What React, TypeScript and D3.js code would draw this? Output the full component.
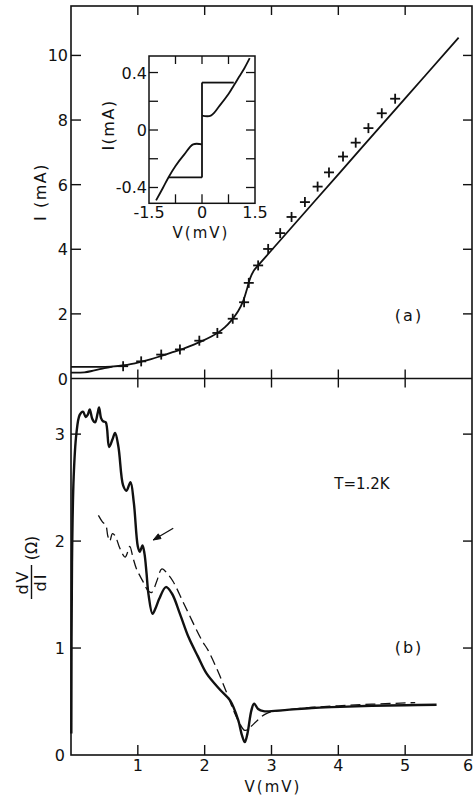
import React from 'react';
import * as d3 from 'd3';

// ---- Panel (a): I-V curve ----
const ivUpperBranch: [number, number][] = [[0, 0.36], [0.3, 0.36], [0.6, 0.37], [0.8, 0.41], [1.05, 0.52], [1.2, 0.6], [1.35, 0.7], [1.5, 0.8], [1.65, 0.9], [1.8, 1.02], [1.95, 1.15], [2.1, 1.3], [2.2, 1.42], [2.3, 1.58], [2.4, 1.8], [2.5, 2.08], [2.58, 2.42], [2.64, 2.82], [2.68, 3.1], [2.73, 3.32], [2.8, 3.5], [3.0, 3.97], [4.0, 6.32], [5.0, 8.67], [5.8, 10.55]];
const ivLowerBranch: [number, number][] = [[0, 0.18], [0.2, 0.19], [0.35, 0.25], [0.5, 0.32], [0.62, 0.37]];
const crossV = [0.78, 1.05, 1.35, 1.63, 1.92, 2.19, 2.42, 2.59, 2.66, 2.8, 2.95, 3.13, 3.3, 3.5, 3.69, 3.86, 4.07, 4.26, 4.45, 4.65, 4.85];
const crossI = [0.38, 0.53, 0.74, 0.9, 1.17, 1.41, 1.85, 2.36, 2.96, 3.5, 4.01, 4.5, 5.0, 5.46, 5.94, 6.38, 6.87, 7.3, 7.75, 8.21, 8.66];
const topYTicks = [0, 2, 4, 6, 8, 10];
const xTicks = [1, 2, 3, 4, 5];
const xTickLabels = [1, 2, 3, 4, 5, 6];

// ---- Inset ----
const insetPosBranch: [number, number][] = [[0, 0.1], [0.25, 0.1], [0.5, 0.17], [0.75, 0.25], [0.9, 0.31], [1.05, 0.37], [1.2, 0.43], [1.35, 0.5]];
const insetNegBranch: [number, number][] = [[0, -0.1], [-0.25, -0.1], [-0.5, -0.17], [-0.75, -0.25], [-0.95, -0.33], [-1.1, -0.4], [-1.3, -0.49]];
const insetTopStep: [number, number][] = [[0, 0.33], [0.9, 0.33]];
const insetBottomStep: [number, number][] = [[-0.95, -0.33], [0, -0.33]];
const insetVertical: [number, number][] = [[0, -0.33], [0, 0.33]];
const insetYTicks = [-0.4, -0.2, 0, 0.2, 0.4];
const insetYLabels = [-0.4, 0, 0.4];
const insetXTicks = [-0.75, 0, 0.75];
const insetXLabels = ['-1.5', '0', '1.5'];
const insetXLabelVals = [-1.5, 0, 1.5];

// ---- Panel (b): dV/dI ----
const dvdiSolid: [number, number][] = [[0.005, 0.2], [0.015, 1.8], [0.04, 2.6], [0.08, 3.0], [0.13, 3.18], [0.18, 3.21], [0.22, 3.16], [0.25, 3.18], [0.28, 3.23], [0.32, 3.14], [0.36, 3.11], [0.4, 3.2], [0.42, 3.25], [0.45, 3.15], [0.48, 3.12], [0.52, 3.11], [0.57, 2.88], [0.62, 2.95], [0.66, 3.01], [0.71, 2.88], [0.78, 2.52], [0.83, 2.47], [0.89, 2.55], [0.94, 2.36], [1.0, 1.95], [1.03, 1.9], [1.07, 1.96], [1.1, 1.88], [1.13, 1.7], [1.16, 1.5], [1.22, 1.32], [1.27, 1.38], [1.32, 1.46], [1.42, 1.57], [1.51, 1.51], [1.63, 1.32], [1.76, 1.1], [1.9, 0.92], [2.03, 0.76], [2.23, 0.61], [2.38, 0.51], [2.5, 0.33], [2.56, 0.18], [2.6, 0.12], [2.64, 0.2], [2.7, 0.42], [2.74, 0.48], [2.8, 0.43], [2.88, 0.41], [3.2, 0.42], [3.6, 0.44], [4.03, 0.45], [4.5, 0.46], [5.0, 0.465], [5.47, 0.47]];
const dvdiDashed: [number, number][] = [[0.41, 2.24], [0.47, 2.18], [0.52, 2.15], [0.55, 2.05], [0.58, 2.0], [0.62, 2.07], [0.66, 2.05], [0.72, 1.95], [0.77, 1.88], [0.81, 1.85], [0.85, 1.9], [0.88, 1.95], [0.93, 1.84], [0.98, 1.74], [1.07, 1.63], [1.16, 1.53], [1.21, 1.52], [1.28, 1.62], [1.36, 1.74], [1.45, 1.69], [1.53, 1.62], [1.7, 1.4], [1.96, 1.07], [2.05, 0.98], [2.2, 0.78], [2.33, 0.58], [2.43, 0.42], [2.52, 0.3], [2.6, 0.23], [2.68, 0.26], [2.8, 0.33], [2.93, 0.39], [3.2, 0.42], [3.6, 0.445], [4.0, 0.46], [4.5, 0.475], [5.15, 0.49]];
const botYTicks = [1, 2, 3];
const botYLabels = [0, 1, 2, 3];
const arrowTail: [number, number] = [1.53, 2.12];
const arrowHead: [number, number] = [1.23, 2.01];

const FONT = 'DejaVu Sans';

export default function App() {
  const x = d3.scaleLinear().domain([0, 6]).range([71, 472]);
  const yTop = d3.scaleLinear().domain([0, 11.53]).range([378.5, 6]);
  const yBot = d3.scaleLinear().domain([0, 3.52]).range([755, 378.5]);
  const xi = d3.scaleLinear().domain([-1.5, 1.5]).range([149, 255]);
  const yi = d3.scaleLinear().domain([-0.51, 0.515]).range([203.3, 56]);

  const curve = d3.curveCatmullRom.alpha(0.5);
  const lineTop = d3.line<[number, number]>().x(d => x(d[0])).y(d => yTop(d[1])).curve(curve);
  const lineBot = d3.line<[number, number]>().x(d => x(d[0])).y(d => yBot(d[1])).curve(curve);
  const lineIn = d3.line<[number, number]>().x(d => xi(d[0])).y(d => yi(d[1])).curve(curve);
  const lineInStraight = d3.line<[number, number]>().x(d => xi(d[0])).y(d => yi(d[1]));

  const left = x(0), right = x(6), top = yTop(11.53), mid = yTop(0), bottom = yBot(0);

  // arrow geometry
  const ax1 = x(arrowTail[0]), ay1 = yBot(arrowTail[1]);
  const ax2 = x(arrowHead[0]), ay2 = yBot(arrowHead[1]);
  const ang = Math.atan2(ay2 - ay1, ax2 - ax1);
  const hl = 8, hw = 0.35;
  const b1 = [ax2 - hl * Math.cos(ang - hw), ay2 - hl * Math.sin(ang - hw)];
  const b2 = [ax2 - hl * Math.cos(ang + hw), ay2 - hl * Math.sin(ang + hw)];

  return (
    <svg width={475} height={801} style={{ position: 'absolute', left: 0, top: 0, background: '#fff' }} fontFamily={FONT}>
      <rect x={0} y={0} width={475} height={801} fill="#fff" />
      {/* frame */}
      <rect x={left} y={top} width={right - left} height={bottom - top} fill="none" stroke="#111" strokeWidth={1.6} />
      <line x1={left} x2={right} y1={mid} y2={mid} stroke="#111" strokeWidth={1.6} />

      {/* Top panel ticks */}
      {topYTicks.map(t => (
        <g key={'tyt' + t}>
          {t > 0 && <line x1={left} x2={left + 10} y1={yTop(t)} y2={yTop(t)} stroke="#111" strokeWidth={1.4} />}
          {t > 0 && <line x1={right - 9} x2={right} y1={yTop(t)} y2={yTop(t)} stroke="#111" strokeWidth={1.4} />}
          <text x={left - 3} y={yTop(t) + 6} fontSize={16} textAnchor="end" fill="#111">{t}</text>
        </g>
      ))}
      {xTicks.map(t => (
        <g key={'xt' + t}>
          <line x1={x(t)} x2={x(t)} y1={top} y2={top + 9} stroke="#111" strokeWidth={1.4} />
          <line x1={x(t)} x2={x(t)} y1={mid - 9} y2={mid + 9} stroke="#111" strokeWidth={1.4} />
          <line x1={x(t)} x2={x(t)} y1={bottom - 10} y2={bottom} stroke="#111" strokeWidth={1.4} />
        </g>
      ))}
      {xTickLabels.map(t => (
        <text key={'xl' + t} x={t === 6 ? Math.min(x(t), 468) : x(t)} y={771} fontSize={16} textAnchor="middle" fill="#111">{t}</text>
      ))}

      {/* Bottom panel y ticks */}
      {botYTicks.map(t => (
        <g key={'byt' + t}>
          <line x1={left} x2={left + 10} y1={yBot(t)} y2={yBot(t)} stroke="#111" strokeWidth={1.4} />
          <line x1={right - 9} x2={right} y1={yBot(t)} y2={yBot(t)} stroke="#111" strokeWidth={1.4} />
        </g>
      ))}
      {botYLabels.map(t => (
        <text key={'byl' + t} x={65} y={yBot(t) + 6} fontSize={16} textAnchor="end" fill="#111">{t}</text>
      ))}

      {/* Top panel data */}
      <path d={lineTop(ivUpperBranch) || ''} fill="none" stroke="#111" strokeWidth={1.8} />
      <path d={lineTop(ivLowerBranch) || ''} fill="none" stroke="#111" strokeWidth={1.8} />
      {crossV.map((v, i) => (
        <g key={'cr' + i} stroke="#111" strokeWidth={1.8}>
          <line x1={x(v) - 5} x2={x(v) + 5} y1={yTop(crossI[i])} y2={yTop(crossI[i])} />
          <line x1={x(v)} x2={x(v)} y1={yTop(crossI[i]) - 5} y2={yTop(crossI[i]) + 5} />
        </g>
      ))}
      <text x={409} y={321} fontSize={16} textAnchor="middle" letterSpacing={2} fill="#111">(a)</text>

      {/* Top y title */}
      <text transform="translate(46,192) rotate(-90)" fontSize={16} textAnchor="middle" letterSpacing={1.5} fill="#111">I (mA)</text>

      {/* Inset */}
      <rect x={xi(-1.5)} y={yi(0.515)} width={xi(1.5) - xi(-1.5)} height={yi(-0.51) - yi(0.515)} fill="#fff" stroke="#111" strokeWidth={1.5} />
      {insetYTicks.map(t => (
        <g key={'iyt' + t}>
          <line x1={xi(-1.5)} x2={xi(-1.5) + 9} y1={yi(t)} y2={yi(t)} stroke="#111" strokeWidth={1.3} />
          <line x1={xi(1.5) - 9} x2={xi(1.5)} y1={yi(t)} y2={yi(t)} stroke="#111" strokeWidth={1.3} />
        </g>
      ))}
      {insetYLabels.map(t => (
        <text key={'iyl' + t} x={xi(-1.5) - 2} y={yi(t) + 6} fontSize={16} textAnchor="end" fill="#111">{t === 0 ? '0' : (t < 0 ? '-' : '') + Math.abs(t).toFixed(1)}</text>
      ))}
      {insetXTicks.map(t => (
        <g key={'ixt' + t}>
          <line x1={xi(t)} x2={xi(t)} y1={yi(0.515)} y2={yi(0.515) + 8} stroke="#111" strokeWidth={1.3} />
          <line x1={xi(t)} x2={xi(t)} y1={yi(-0.51) - 9} y2={yi(-0.51)} stroke="#111" strokeWidth={1.3} />
        </g>
      ))}
      {insetXLabels.map((s, i) => (
        <text key={'ixl' + i} x={xi(insetXLabelVals[i])} y={218} fontSize={16} textAnchor="middle" fill="#111">{s}</text>
      ))}
      <text x={201} y={238} fontSize={15} textAnchor="middle" letterSpacing={2} fill="#111">V(mV)</text>
      <text transform="translate(114,125) rotate(-90)" fontSize={16} textAnchor="middle" letterSpacing={1.5} fill="#111">I(mA)</text>
      <path d={lineInStraight(insetVertical) || ''} fill="none" stroke="#111" strokeWidth={1.8} />
      <path d={lineInStraight(insetTopStep) || ''} fill="none" stroke="#111" strokeWidth={1.8} />
      <path d={lineInStraight(insetBottomStep) || ''} fill="none" stroke="#111" strokeWidth={1.8} />
      <path d={lineIn(insetPosBranch) || ''} fill="none" stroke="#111" strokeWidth={1.8} />
      <path d={lineIn(insetNegBranch) || ''} fill="none" stroke="#111" strokeWidth={1.8} />

      {/* Bottom panel data */}
      <path d={lineBot(dvdiDashed) || ''} fill="none" stroke="#111" strokeWidth={1.3} strokeDasharray="10 5" />
      <path d={lineBot(dvdiSolid) || ''} fill="none" stroke="#111" strokeWidth={2.4} strokeLinejoin="round" />
      <line x1={ax1} y1={ay1} x2={ax2} y2={ay2} stroke="#111" strokeWidth={1.3} />
      <path d={`M${b1[0]},${b1[1]}L${ax2},${ay2}L${b2[0]},${b2[1]}Z`} fill="#111" stroke="#111" strokeWidth={1} />
      <text x={362} y={489} fontSize={15} textAnchor="middle" fill="#111">T=1.2K</text>
      <text x={409} y={653} fontSize={16} textAnchor="middle" letterSpacing={2} fill="#111">(b)</text>

      {/* Bottom y title: dV/dI (Ω) */}
      <g transform="translate(31.5,582) rotate(-90)" fill="#111">
        <text x={0} y={-4} fontSize={16} textAnchor="middle" letterSpacing={2}>dV</text>
        <line x1={-17} x2={17} y1={0} y2={0} stroke="#111" strokeWidth={1.4} />
        <text x={0} y={14} fontSize={16} textAnchor="middle" letterSpacing={2}>dI</text>
        <text x={34} y={5} fontSize={16} textAnchor="middle">(Ω)</text>
      </g>

      {/* X title */}
      <text x={273} y={792} fontSize={15} textAnchor="middle" letterSpacing={2} fill="#111">V(mV)</text>
    </svg>
  );
}
